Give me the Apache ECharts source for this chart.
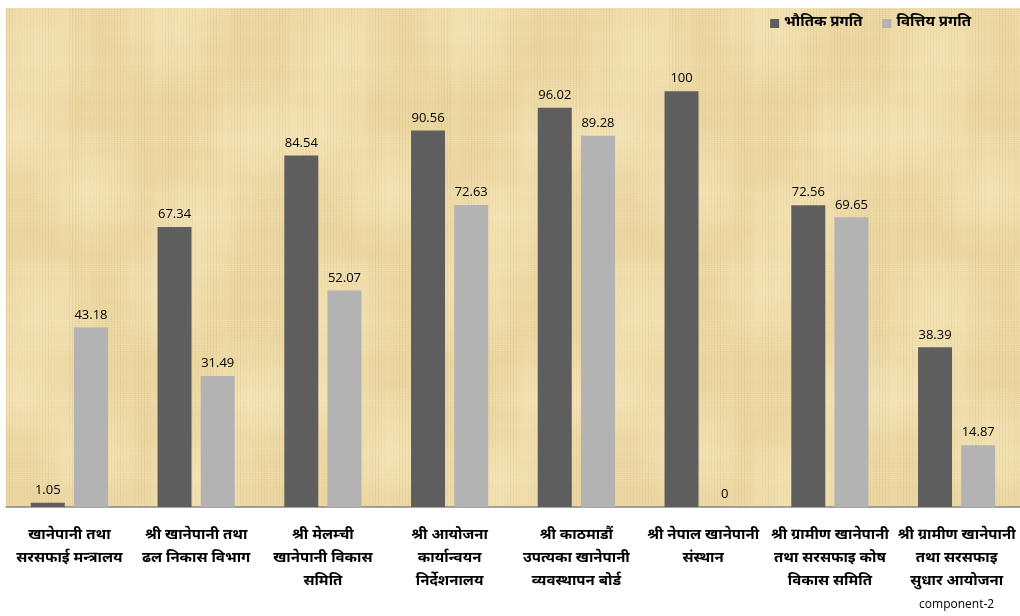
<!DOCTYPE html>
<html>
<head>
<meta charset="utf-8">
<script src="https://cdn.jsdelivr.net/npm/echarts@6/dist/echarts.min.js"></script>
<style>
html,body{margin:0;padding:0;background:#fff;}
#chart{width:1020px;height:616px;}
</style>
</head>
<body>
<div id="chart"></div>
<script>
const categories = [
  "खानेपानी तथा\nसरसफाई मन्त्रालय",
  "श्री खानेपानी तथा\nढल निकास विभाग",
  "श्री मेलम्ची\nखानेपानी विकास\nसमिति",
  "श्री आयोजना\nकार्यान्वयन\nनिर्देशनालय",
  "श्री काठमाडौं\nउपत्यका खानेपानी\nव्यवस्थापन बोर्ड",
  "श्री नेपाल खानेपानी\nसंस्थान",
  "श्री ग्रामीण खानेपानी\nतथा सरसफाइ कोष\nविकास समिति",
  "श्री ग्रामीण खानेपानी\nतथा सरसफाइ\nसुधार आयोजना\n{c|component-2}"
];
const seriesNames = ["भौतिक प्रगति", "वित्तिय प्रगति"];
const physical = [1.05, 67.34, 84.54, 90.56, 96.02, 100, 72.56, 38.39];
const financial = [43.18, 31.49, 52.07, 72.63, 89.28, 0, 69.65, 14.87];

// papyrus-like texture (deterministic, seamless pattern)
function makeTexture() {
  const W = 300, H = 260;
  const c = document.createElement('canvas');
  c.width = W; c.height = H;
  const g = c.getContext('2d');
  g.fillStyle = '#ebd6a0';
  g.fillRect(0, 0, W, H);
  // broad light blotches, wrapped so the tile is seamless
  const spots = [[40, 50], [170, 30], [250, 140], [90, 190], [200, 220], [20, 130]];
  spots.forEach(function (s) {
    for (let dx = -1; dx <= 1; dx++) {
      for (let dy = -1; dy <= 1; dy++) {
        const cx = s[0] + dx * W, cy = s[1] + dy * H;
        const grd = g.createRadialGradient(cx, cy, 4, cx, cy, 65);
        grd.addColorStop(0, 'rgba(250,237,198,0.5)');
        grd.addColorStop(1, 'rgba(250,237,198,0)');
        g.fillStyle = grd;
        g.fillRect(0, 0, W, H);
      }
    }
  });
  // horizontal fibres
  for (let y = 0; y < H; y += 2) {
    const a = 0.10 + 0.10 * Math.sin(y * 2 * Math.PI / H * 7) * Math.sin(y * 2 * Math.PI / H * 3 + 1);
    g.fillStyle = 'rgba(255,246,220,' + Math.max(0, a).toFixed(3) + ')';
    g.fillRect(0, y, W, 1);
  }
  // vertical fibres
  for (let x = 0; x < W; x += 3) {
    const a = 0.07 + 0.07 * Math.sin(x * 2 * Math.PI / W * 11) * Math.cos(x * 2 * Math.PI / W * 2);
    g.fillStyle = 'rgba(175,145,80,' + Math.max(0, a).toFixed(3) + ')';
    g.fillRect(x, 0, 1, H);
  }
  return c;
}

const chart = echarts.init(document.getElementById('chart'));
const devFont = '"Noto Sans Devanagari","Lohit Devanagari","FreeSans","Noto Sans",sans-serif';
const numFont = '"Open Sans","Noto Sans",sans-serif';

chart.setOption({
  animation: false,
  backgroundColor: '#ffffff',
  legend: {
    top: 11,
    right: 44,
    icon: 'rect',
    itemWidth: 9,
    itemHeight: 9,
    itemGap: 20,
    textStyle: { fontFamily: devFont, fontWeight: 'bold', fontSize: 15, color: '#000' },
    data: seriesNames
  },
  grid: {
    left: 6, right: 0, top: 8, bottom: 109,
    show: true,
    borderWidth: 0,
    backgroundColor: { image: makeTexture(), repeat: 'repeat' }
  },
  xAxis: {
    type: 'category',
    data: categories,
    axisTick: { show: false },
    axisLine: { lineStyle: { color: '#888888', width: 1.5 } },
    axisLabel: {
      interval: 0,
      margin: 18,
      fontFamily: devFont,
      fontWeight: 'bold',
      fontSize: 15,
      lineHeight: 23,
      color: '#000',
      rich: {
        c: { fontFamily: numFont, fontWeight: 'normal', fontSize: 12, lineHeight: 21, color: '#000' }
      }
    }
  },
  yAxis: {
    type: 'value',
    min: 0, max: 120, interval: 20,
    show: false,
    splitLine: { show: false }
  },
  series: [
    {
      name: seriesNames[0],
      type: 'bar',
      data: physical,
      barWidth: 34,
      barGap: '27%',
      itemStyle: { color: '#5e5e5e' },
      label: { show: true, position: 'top', distance: 6, fontFamily: numFont, fontSize: 13, color: '#000' }
    },
    {
      name: seriesNames[1],
      type: 'bar',
      data: financial,
      barWidth: 34,
      barGap: '27%',
      itemStyle: { color: '#b3b3b3' },
      label: { show: true, position: 'top', distance: 6, fontFamily: numFont, fontSize: 13, color: '#000' }
    }
  ]
});
</script>
</body>
</html>
